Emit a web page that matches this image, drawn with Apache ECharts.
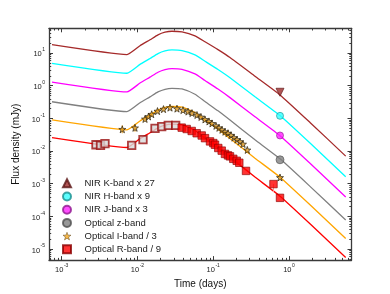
<!DOCTYPE html>
<html><head><meta charset="utf-8">
<script src="https://cdn.jsdelivr.net/npm/echarts@6/dist/echarts.min.js"></script>
<style>html,body{margin:0;padding:0;background:#fff}#c{width:390px;height:294px}</style>
</head><body><div id="c"></div>
<script>
// ---- model curves (shared time grid, days) ----
const modelT = [7.45e-4, 7.27e-3, 0.01080, 0.01463, 0.01866, 0.02309, 0.02855, 0.03870, 0.05744, 0.07784, 0.1156, 0.1664, 0.3557, 0.7606, 1.892, 5.601];
const modelK = [17.78, 8.89, 16.59, 25.13, 35.54, 42.85, 45.92, 43.75, 33.16, 21.88, 12.57, 7.22, 1.935, 0.5188, 0.07454, 0.006923];
const modelH = [4.764, 2.382, 4.445, 6.736, 9.526, 11.49, 12.31, 11.73, 8.647, 5.551, 3.100, 1.733, 0.4547, 0.1211, 0.01739, 0.001615];
const modelJ = [1.277, 0.6388, 1.192, 1.806, 2.554, 3.079, 3.300, 3.144, 2.270, 1.427, 0.7807, 0.4273, 0.1106, 0.02925, 0.004202, 3.903e-4];
const modelZ = [0.3195, 0.1597, 0.2981, 0.4516, 0.6388, 0.7700, 0.8253, 0.7864, 0.5408, 0.3239, 0.1688, 0.08806, 0.02195, 0.005741, 8.248e-4, 7.657e-5];
const modelI = [0.08864, 0.04432, 0.08273, 0.1253, 0.1772, 0.2138, 0.2291, 0.2183, 0.1497, 0.08938, 0.04646, 0.02416, 0.006010, 0.001571, 2.258e-4, 2.097e-5];
const modelR = [0.02547, 0.01274, 0.02376, 0.03600, 0.05091, 0.06140, 0.06579, 0.06269, 0.04223, 0.02477, 0.01265, 0.006460, 0.001584, 4.124e-4, 5.925e-5, 5.502e-6];

// ---- observations ----
const kT = [0.7606], kF = [0.625];
const hT = [0.7606], hF = [0.1186];
const jT = [0.7606], jF = [0.0297];
const zT = [0.7606], zF = [0.00536];
const iT = [0.006307, 0.009277, 0.01258, 0.01398, 0.01541, 0.01838, 0.02206, 0.02687, 0.03323, 0.03990, 0.04644, 0.05244, 0.06104, 0.06895, 0.07784, 0.08790, 0.09630, 0.1088, 0.1191, 0.1305, 0.1429, 0.1566, 0.1715, 0.1879, 0.2059, 0.2255, 0.2470, 0.2815, 0.7606];
const iF = [0.04588, 0.05091, 0.09499, 0.1130, 0.1325, 0.1654, 0.1900, 0.2108, 0.1967, 0.1772, 0.1597, 0.1440, 0.1253, 0.1091, 0.09178, 0.07989, 0.06955, 0.05849, 0.05091, 0.04432, 0.03860, 0.03478, 0.03029, 0.02547, 0.02217, 0.01930, 0.01623, 0.01071, 0.001539];
const iErrT = [0.006307, 0.009277], iErrLo = [0.0347, 0.0385], iErrHi = [0.0606, 0.0672];
const rT = [0.002836, 0.003252, 0.003728, 0.008390, 0.01183, 0.01704, 0.02089, 0.02551, 0.03194, 0.03835, 0.04464, 0.05196, 0.06048, 0.07042, 0.07784, 0.09065, 0.1002, 0.1055, 0.1166, 0.1293, 0.1429, 0.1566, 0.1664, 0.1839, 0.2040, 0.2207, 0.2707, 0.6241, 0.7606];
const rF = [0.01546, 0.01483, 0.01680, 0.01483, 0.02217, 0.04917, 0.05534, 0.06053, 0.06053, 0.05163, 0.04685, 0.04079, 0.03478, 0.02967, 0.02459, 0.01957, 0.01740, 0.01546, 0.01230, 0.01020, 0.008118, 0.007316, 0.006828, 0.005741, 0.004997, 0.004351, 0.002447, 9.674e-4, 3.667e-4];
const rErrT = [0.6241], rErrLo = [5.5e-4], rErrHi = [9.674e-4];
const rEarlyCount = 9; // first points from a different instrument (open-looking squares)

const names = ['NIR K-band x 27', 'NIR H-band x 9', 'NIR J-band x 3', 'Optical z-band', 'Optical I-band / 3', 'Optical R-band / 9'];

const X_MIN = 6.80e-4, X_MAX = 6.68, Y_MIN = 4.57e-6, Y_MAX = 56.5;
const FONT = 'Liberation Sans, Arial, sans-serif';
const AX = '#3a3a3a';
const STAR = 'path://M0,-10L2.35,-3.24L9.51,-3.09L3.8,1.24L5.88,8.09L0,4.1L-5.88,8.09L-3.8,1.24L-9.51,-3.09L-2.35,-3.24Z';

const zip = (a, b) => a.map((v, i) => [v, b[i]]);
function isPow(v) { const e = Math.log10(v); return Math.abs(e - Math.round(e)) < 1e-6; }
function powLabel(v) {
  if (!isPow(v)) return '';
  const e = Math.round(Math.log10(v));
  return '{b|10}{s|' + e + '}';
}
const richLab = {
  b: { fontSize: 7.5, fontFamily: FONT, color: '#222', lineHeight: 11, verticalAlign: 'bottom' },
  s: { fontSize: 5, fontFamily: FONT, color: '#222', lineHeight: 6, verticalAlign: 'top', padding: [0, 0, 0, 0.5] }
};

function lineSeries(data, color) {
  return { type: 'line', data: zip(modelT, data), showSymbol: false, symbol: 'none', smooth: 0.15,
    lineStyle: { color: color, width: 1.3 }, z: 2, silent: true, xAxisIndex: 0, yAxisIndex: 0 };
}
function errSeries(t, lo, hi, color) {
  return { type: 'custom', xAxisIndex: 0, yAxisIndex: 0, z: 3, silent: true,
    data: t.map((v, i) => [v, lo[i], hi[i]]),
    renderItem: (p, api) => {
      const a = api.coord([api.value(0), api.value(1)]);
      const b = api.coord([api.value(0), api.value(2)]);
      return { type: 'line', shape: { x1: a[0], y1: a[1], x2: b[0], y2: b[1] }, style: { stroke: color, lineWidth: 1 } };
    } };
}

const chart = echarts.init(document.getElementById('c'), null, { renderer: 'canvas' });
const axCommon = {
  type: 'log', logBase: 10,
  axisLine: { show: true, onZero: false, lineStyle: { color: AX, width: 1.3 } },
  axisTick: { show: true, inside: true, length: 4, lineStyle: { color: AX, width: 1 } },
  splitLine: { show: false }, minorTick: { show: false }
};
const option = {
  animation: false,
  backgroundColor: '#fff',
  grid: { left: 49, top: 28.3, width: 302.5, height: 235.7, containLabel: false },
  xAxis: [
    Object.assign({}, axCommon, { min: X_MIN, max: X_MAX, position: 'bottom',
      name: 'Time (days)', nameLocation: 'middle', nameGap: 15,
      nameTextStyle: { fontSize: 10, fontFamily: FONT, color: '#111', verticalAlign: 'top' },
      axisLabel: { show: true, margin: 3, formatter: powLabel, rich: richLab, showMinLabel: false, showMaxLabel: false } }),
    Object.assign({}, axCommon, { min: X_MIN, max: X_MAX, position: 'top', axisLabel: { show: false } })
  ],
  yAxis: [
    Object.assign({}, axCommon, { min: Y_MIN, max: Y_MAX, position: 'left',
      name: 'Flux density (mJy)', nameLocation: 'middle', nameGap: 22,
      nameTextStyle: { fontSize: 10, fontFamily: FONT, color: '#111' },
      axisLabel: { show: true, margin: 4, formatter: powLabel, rich: richLab, showMinLabel: false, showMaxLabel: false } }),
    Object.assign({}, axCommon, { min: Y_MIN, max: Y_MAX, position: 'right', axisLabel: { show: false } })
  ],
  legend: {
    orient: 'vertical', left: 62, top: 178.3, itemWidth: 8, itemHeight: 8, itemGap: 3.2,
    selectedMode: false, padding: 0,
    textStyle: { fontSize: 9.5, fontFamily: FONT, color: '#222', padding: [0, 0, 0, 8.5] },
    data: names.map((n, i) => i === 4
      ? { name: n, itemStyle: { color: '#f2a418', borderColor: '#5a4010', borderWidth: 0.6 } }
      : { name: n })
  },
  series: [
    lineSeries(modelK, '#a52a2a'),
    lineSeries(modelH, '#00ffff'),
    lineSeries(modelJ, '#ff00ff'),
    lineSeries(modelZ, '#808080'),
    lineSeries(modelI, '#ffa500'),
    lineSeries(modelR, '#ff0000'),
    errSeries(iErrT, iErrLo, iErrHi, '#f5a623'),
    errSeries(rErrT, rErrLo, rErrHi, '#ff9090'),
    { name: names[0], type: 'scatter', data: zip(kT, kF), symbol: 'triangle', symbolRotate: 180, symbolSize: 8, z: 4,
      itemStyle: { color: '#9e2b2b', borderColor: '#5a1515', borderWidth: 0.8 } },
    { name: names[1], type: 'scatter', data: zip(hT, hF), symbol: 'circle', symbolSize: 7, z: 4,
      itemStyle: { color: '#33ffff', borderColor: '#1a8f8f', borderWidth: 0.8 } },
    { name: names[2], type: 'scatter', data: zip(jT, jF), symbol: 'circle', symbolSize: 7, z: 4,
      itemStyle: { color: '#ff22ff', borderColor: '#8f1a8f', borderWidth: 0.8 } },
    { name: names[3], type: 'scatter', data: zip(zT, zF), symbol: 'circle', symbolSize: 8, z: 4,
      itemStyle: { color: '#808080', borderColor: '#505050', borderWidth: 0.8 } },
    { name: names[4], type: 'scatter', data: zip(iT, iF), symbol: STAR, symbolSize: 7, z: 5,
      itemStyle: { color: '#e09a20', borderColor: '#2a2210', borderWidth: 0.9 } },
    { name: names[5], type: 'scatter', z: 4, symbol: 'rect', symbolSize: 7.5,
      itemStyle: { color: '#ff0000', borderColor: '#8a0000', borderWidth: 0.8 },
      data: zip(rT, rF).map((d, i) => i < rEarlyCount
        ? { value: d, itemStyle: { color: '#d8d8d8', borderColor: '#9a1010', borderWidth: 1.8 } }
        : { value: d }) }
  ]
};
chart.setOption(option);

// minor ticks (2..9 in each decade) on all four sides, positioned via the axes' own scales
(function () {
  const g = [];
  const x0 = chart.convertToPixel({ xAxisIndex: 0 }, X_MIN), x1 = chart.convertToPixel({ xAxisIndex: 0 }, X_MAX);
  const yb = chart.convertToPixel({ yAxisIndex: 0 }, Y_MIN), yt = chart.convertToPixel({ yAxisIndex: 0 }, Y_MAX);
  const st = { stroke: AX, lineWidth: 1 };
  const L = 2.2;
  for (let d = -4; d <= 1; d++) for (let k = 2; k <= 9; k++) {
    const v = k * Math.pow(10, d);
    if (v > X_MIN && v < X_MAX) {
      const px = Math.round(chart.convertToPixel({ xAxisIndex: 0 }, v)) + 0.5;
      g.push({ type: 'line', silent: true, z: 10, shape: { x1: px, y1: yb, x2: px, y2: yb - L }, style: st });
      g.push({ type: 'line', silent: true, z: 10, shape: { x1: px, y1: yt, x2: px, y2: yt + L }, style: st });
    }
  }
  for (let d = -6; d <= 1; d++) for (let k = 2; k <= 9; k++) {
    const v = k * Math.pow(10, d);
    if (v > Y_MIN && v < Y_MAX) {
      const py = Math.round(chart.convertToPixel({ yAxisIndex: 0 }, v)) + 0.5;
      g.push({ type: 'line', silent: true, z: 10, shape: { x1: x0, y1: py, x2: x0 + L, y2: py }, style: st });
      g.push({ type: 'line', silent: true, z: 10, shape: { x1: x1, y1: py, x2: x1 - L, y2: py }, style: st });
    }
  }
  chart.setOption({ graphic: g });
})();
</script></body></html>
